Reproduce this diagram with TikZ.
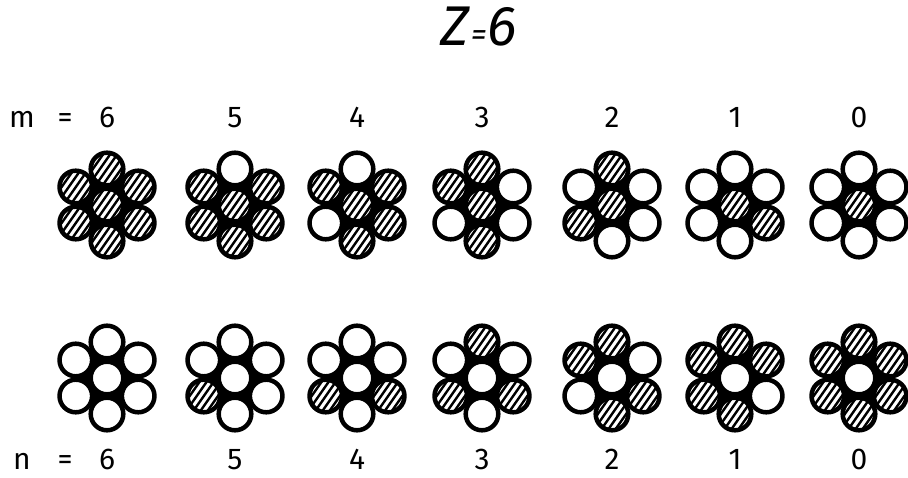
\documentclass[tikz,border=0pt]{standalone}
\usepackage{fontspec}
\setmainfont{Fira Sans}

% radius of one rod (to the middle of its outline) and centre spacing
\newcommand\rodr{16.3}
\newcommand\rodd{36}

\tikzset{
  rodline/.style={line width=4.5pt},
  hatchline/.style={line width=2.4pt},
  numtext/.style={font=\fontsize{30}{30}\selectfont, anchor=base, inner sep=0pt},
}

% diagonal hatching inside one rod
\newcommand\rodhatch[2]{%
  \begin{scope}[shift={(#1,#2)}]
    \clip (0,0) circle (\rodr);
    \begin{scope}[rotate=55]
      \foreach \k in {-3,...,3}
        \draw[hatchline] (-22,\k*5.8) -- (22,\k*5.8);
    \end{scope}
  \end{scope}}

% one rod: x, y, hatched (1) or plain (0)
\newcommand\rod[3]{%
  \fill[white] (#1,#2) circle (\rodr);
  \ifnum#3=1 \rodhatch{#1}{#2}\fi
  \draw[rodline] (#1,#2) circle (\rodr);}

% a seven-rod strand: x, y, centre, top, upper right, lower right,
% bottom, lower left, upper left
\newcommand\strand[9]{%
  \fill (#1,#2+\rodd) -- (#1+31.18,#2+18) -- (#1+31.18,#2-18)
        -- (#1,#2-\rodd) -- (#1-31.18,#2-18) -- (#1-31.18,#2+18) -- cycle;
  \rod{#1}{#2}{#3}%
  \rod{#1}{#2+\rodd}{#4}%
  \rod{#1+31.18}{#2+18}{#5}%
  \rod{#1+31.18}{#2-18}{#6}%
  \rod{#1}{#2-\rodd}{#7}%
  \rod{#1-31.18}{#2-18}{#8}%
  \rod{#1-31.18}{#2+18}{#9}}

\begin{document}
\begin{tikzpicture}[x=1pt,y=1pt]
  \useasboundingbox (0,0) rectangle (908,477);

  % title
  \node[anchor=base, inner sep=0pt] (title) at (479,431)
    {\fontsize{56}{56}\selectfont\itshape Z\kern1pt{\fontsize{32}{32}\selectfont=}\kern1pt 6};

  % upper row labels
  \node[numtext] (mlab) at (22,349) {m};
  \node[numtext] (meq) at (65,349) {=};
  \node[numtext] (m6) at (107,349) {6};
  \node[numtext] (m5) at (235,349) {5};
  \node[numtext] (m4) at (357,349) {4};
  \node[numtext] (m3) at (482,349) {3};
  \node[numtext] (m2) at (612,349) {2};
  \node[numtext] (m1) at (735,349) {1};
  \node[numtext] (m0) at (859,349) {0};

  % upper row strands (hatched core)
  \strand{107}{272}{1}{1}{1}{1}{1}{1}{1}
  \strand{235}{272}{1}{0}{1}{1}{1}{1}{1}
  \strand{357}{272}{1}{0}{1}{1}{1}{0}{1}
  \strand{482}{272}{1}{1}{0}{0}{1}{0}{1}
  \strand{612}{272}{1}{1}{0}{0}{0}{1}{0}
  \strand{735}{272}{1}{0}{0}{1}{0}{0}{0}
  \strand{859}{272}{1}{0}{0}{0}{0}{0}{0}

  % lower row strands (plain core)
  \strand{107}{99}{0}{0}{0}{0}{0}{0}{0}
  \strand{235}{99}{0}{0}{0}{0}{0}{1}{0}
  \strand{357}{99}{0}{0}{0}{1}{0}{1}{0}
  \strand{482}{99}{0}{1}{0}{1}{0}{1}{0}
  \strand{612}{99}{0}{1}{0}{1}{1}{0}{1}
  \strand{735}{99}{0}{1}{1}{0}{1}{1}{1}
  \strand{859}{99}{0}{1}{1}{1}{1}{1}{1}

  % lower row labels
  \node[numtext] (nlab) at (22,8) {n};
  \node[numtext] (neq) at (65,8) {=};
  \node[numtext] (n6) at (107,8) {6};
  \node[numtext] (n5) at (235,8) {5};
  \node[numtext] (n4) at (357,8) {4};
  \node[numtext] (n3) at (482,8) {3};
  \node[numtext] (n2) at (612,8) {2};
  \node[numtext] (n1) at (735,8) {1};
  \node[numtext] (n0) at (859,8) {0};
\end{tikzpicture}
\end{document}
